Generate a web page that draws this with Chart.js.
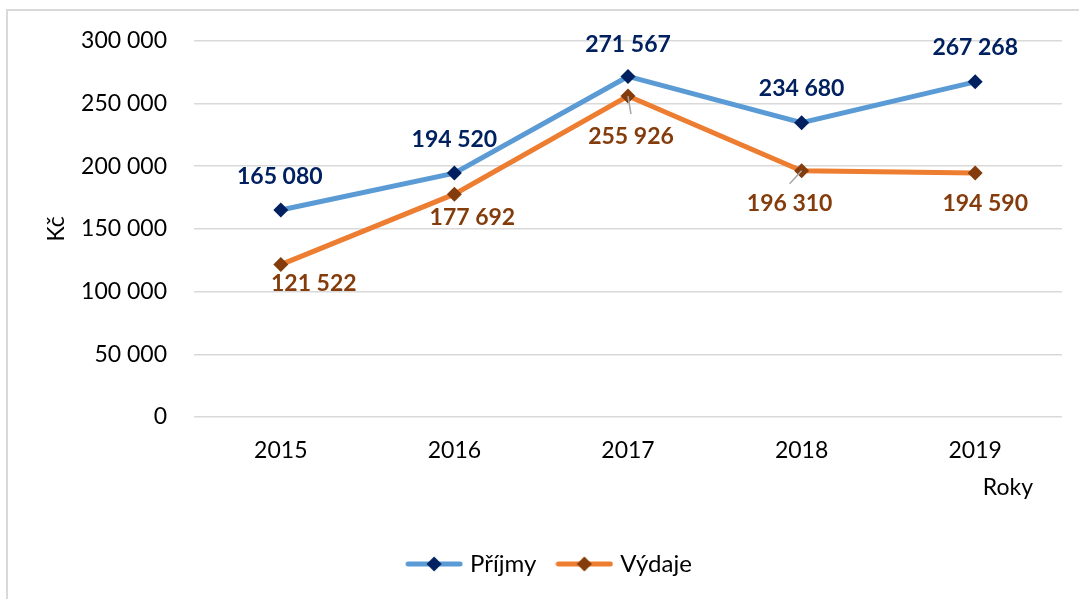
<!DOCTYPE html>
<html>
<head>
<meta charset="utf-8">
<script src="https://cdn.jsdelivr.net/npm/chart.js@4/dist/chart.umd.min.js"></script>
<style>
  body { margin: 0; background: #fff; overflow: hidden; }
  #wrap { position: relative; width: 1079px; height: 599px; }
  #frame { position: absolute; left: 6px; top: 9px; width: 2000px; height: 2000px;
           border: 2px solid #d9d9d9; pointer-events: none; }
</style>
</head>
<body>
<div id="wrap">
  <canvas id="chart" width="1079" height="599"></canvas>
  <div id="frame"></div>
</div>
<script>
const years = ["2015", "2016", "2017", "2018", "2019"];
const prijmy = [165080, 194520, 271567, 234680, 267268];
const vydaje = [121522, 177692, 255926, 196310, 194590];
const seriesNames = ["Příjmy", "Výdaje"];
const yTicks = [0, 50000, 100000, 150000, 200000, 250000, 300000];

const FONT = "Lato, 'Open Sans', sans-serif";
const lineColors = ["#5b9bd5", "#ed7d31"];
const markColors = ["#002060", "#843c0c"];

const fmt = (v) => String(v).replace(/\B(?=(\d{3})+(?!\d))/g, " ");

// legend swatch: line with a diamond in the middle
function swatch(lineColor, markColor) {
  const c = document.createElement("canvas");
  c.width = 58;
  c.height = 18;
  const g = c.getContext("2d");
  g.strokeStyle = lineColor;
  g.lineWidth = 5;
  g.lineCap = "round";
  g.beginPath();
  g.moveTo(3, 9);
  g.lineTo(55, 9);
  g.stroke();
  g.fillStyle = markColor;
  g.beginPath();
  g.moveTo(29, 1.5);
  g.lineTo(36.5, 9);
  g.lineTo(29, 16.5);
  g.lineTo(21.5, 9);
  g.closePath();
  g.fill();
  return c;
}

// value labels (and the small leader lines Excel adds)
const valueLabels = {
  id: "valueLabels",
  afterDatasetsDraw(chart, args, opts) {
    const ctx = chart.ctx;
    ctx.save();
    ctx.font = "bold 23px " + FONT;
    ctx.textAlign = "center";
    ctx.textBaseline = "middle";
    chart.data.datasets.forEach((ds, di) => {
      const meta = chart.getDatasetMeta(di);
      const offs = opts.offsets[di];
      meta.data.forEach((pt, i) => {
        const leader = opts.leaders[di] && opts.leaders[di][i];
        if (leader) {
          ctx.strokeStyle = "#a6a6a6";
          ctx.lineWidth = 1.5;
          ctx.beginPath();
          ctx.moveTo(pt.x, pt.y);
          ctx.lineTo(pt.x + leader[0], pt.y + leader[1]);
          ctx.stroke();
        }
        ctx.fillStyle = markColors[di];
        ctx.fillText(fmt(ds.data[i]), pt.x + offs[i][0], pt.y + offs[i][1]);
      });
    });
    ctx.restore();
  },
};

// x axis title sits right-aligned under the last category
const axisTitleX = {
  id: "axisTitleX",
  afterDraw(chart) {
    const x = chart.scales.x;
    const ctx = chart.ctx;
    ctx.save();
    ctx.font = "23px " + FONT;
    ctx.fillStyle = "#000";
    ctx.textAlign = "right";
    ctx.textBaseline = "middle";
    ctx.fillText("Roky", x.right - 29, x.top + 71);
    ctx.restore();
  },
};

new Chart(document.getElementById("chart"), {
  type: "line",
  data: {
    labels: years,
    datasets: [
      {
        label: seriesNames[0],
        data: prijmy,
        borderColor: lineColors[0],
        backgroundColor: markColors[0],
        borderWidth: 5,
        pointStyle: "rectRot",
        pointRadius: 7.5,
        pointBorderWidth: 0,
        pointBackgroundColor: markColors[0],
        tension: 0,
      },
      {
        label: seriesNames[1],
        data: vydaje,
        borderColor: lineColors[1],
        backgroundColor: markColors[1],
        borderWidth: 5,
        pointStyle: "rectRot",
        pointRadius: 7.5,
        pointBorderWidth: 0,
        pointBackgroundColor: markColors[1],
        tension: 0,
      },
    ],
  },
  options: {
    responsive: false,
    animation: false,
    layout: { padding: { left: 40, right: 17, top: 39, bottom: 13 } },
    scales: {
      x: {
        offset: true,
        grid: { display: false },
        border: { display: false },
        ticks: { color: "#000", padding: 12, font: { family: FONT, size: 23 } },
        afterFit(scale) { scale.height = 111; },
      },
      y: {
        min: 0,
        max: 300000,
        afterBuildTicks(scale) { scale.ticks = yTicks.map((v) => ({ value: v })); },
        grid: { color: "#d9d9d9", lineWidth: 1.5, drawTicks: false },
        border: { display: false },
        ticks: {
          color: "#000",
          padding: 27,
          font: { family: FONT, size: 23 },
          callback: (v) => fmt(v),
        },
        title: {
          display: true,
          text: "Kč",
          color: "#000",
          font: { family: FONT, size: 23 },
          padding: { top: 3, bottom: 0 },
        },
        afterFit(scale) { scale.width = 154; },
      },
    },
    plugins: {
      legend: {
        position: "bottom",
        labels: {
          usePointStyle: true,
          pointStyleWidth: 48,
          boxHeight: 18,
          padding: 24,
          color: "#000",
          font: { family: FONT, size: 24 },
          generateLabels(chart) {
            return chart.data.datasets.map((ds, i) => ({
              text: ds.label,
              datasetIndex: i,
              pointStyle: swatch(lineColors[i], markColors[i]),
              fontColor: "#000",
              lineWidth: 0,
              strokeStyle: "transparent",
              fillStyle: "transparent",
            }));
          },
        },
      },
      tooltip: { enabled: false },
      valueLabels: {
        offsets: [
          [[-1, -33], [0, -33], [0, -32], [0, -34], [0, -34]],
          [[33, 19], [18, 23], [3, 41], [-12, 33], [10, 31]],
        ],
        leaders: [null, { 2: [3, 18], 3: [-12, 13] }],
      },
    },
  },
  plugins: [valueLabels, axisTitleX],
});
</script>
</body>
</html>
